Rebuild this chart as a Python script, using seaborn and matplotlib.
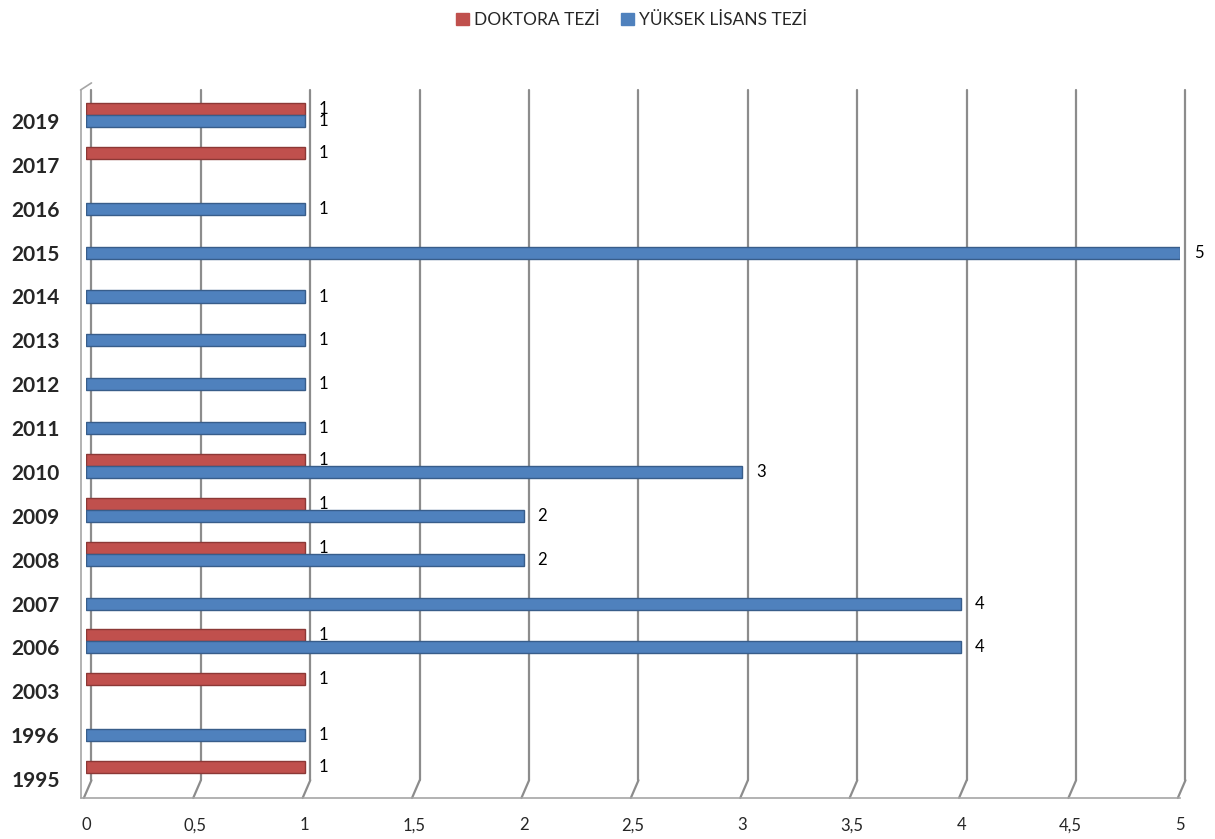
import matplotlib
matplotlib.use("Agg")
import matplotlib.pyplot as plt
import matplotlib.patches as mpatches
import matplotlib.transforms as mtransforms
import seaborn as sns
import pandas as pd
import numpy as np

years = ["2019", "2017", "2016", "2015", "2014", "2013", "2012", "2011",
         "2010", "2009", "2008", "2007", "2006", "2003", "1996", "1995"]
doktora_years = ["2019", "2017", "2010", "2009", "2008", "2006", "2003", "1995"]
doktora_values = [1, 1, 1, 1, 1, 1, 1, 1]
yl_years = ["2019", "2016", "2015", "2014", "2013", "2012", "2011", "2010",
            "2009", "2008", "2007", "2006", "1996"]
yl_values = [1, 1, 5, 1, 1, 1, 1, 3, 2, 2, 4, 4, 1]
series = ["DOKTORA TEZİ", "YÜKSEK LİSANS TEZİ"]
colors = ["#C0504D", "#4F81BD"]
edge_colors = ["#8C3836", "#385D8A"]
xticks = [0, 0.5, 1, 1.5, 2, 2.5, 3, 3.5, 4, 4.5, 5]
xtick_labels = ["0", "0,5", "1", "1,5", "2", "2,5", "3", "3,5", "4", "4,5", "5"]

df = pd.concat([
    pd.DataFrame({"year": doktora_years, "type": series[0], "value": doktora_values}),
    pd.DataFrame({"year": yl_years, "type": series[1], "value": yl_values}),
], ignore_index=True)

sns.set_style("white")
plt.rcParams["font.family"] = ["Lato", "DejaVu Sans"]

fig = plt.figure(figsize=(12.15, 8.39), dpi=100)
ax = fig.add_axes([86 / 1215, 1 - 798 / 839, (1180 - 86) / 1215, (798 - 90) / 839])

sns.barplot(data=df, y="year", x="value", hue="type", order=years,
            hue_order=series, palette=colors, width=0.55, dodge=True,
            orient="h", legend=False, ax=ax, saturation=1)

for cont, ec in zip(ax.containers, edge_colors):
    for bar in cont:
        bar.set_edgecolor(ec)
        bar.set_linewidth(1.0)
        bar.set_zorder(3)
    ax.bar_label(cont, labels=[f"{int(b.get_width())}" for b in cont],
                 padding=10, fontsize=12, color="#000000")

ax.set_xlim(0, 5)
ax.set_ylim(15.57, -0.57)
ax.set_yticks(np.arange(len(years)) + 0.1375)
ax.set_yticklabels(years, fontsize=15, fontweight="bold")
ax.set_xticks(xticks)
ax.set_xticklabels(xtick_labels, fontsize=12)
ax.tick_params(axis="x", length=0, pad=14)
ax.tick_params(axis="y", length=0, pad=19)
ax.set_xlabel("")
ax.set_ylabel("")

# vertical gridlines with a small 3D-like floor slant
trans = mtransforms.blended_transform_factory(ax.transData, ax.transAxes)
for xv in xticks:
    ax.plot([xv + 0.025, xv + 0.025], [0.025, 1.0], transform=trans,
            color="#8C8C8C", lw=1.6, zorder=1, clip_on=False)
    ax.plot([xv + 0.025, xv - 0.01], [0.025, 0.0], transform=trans,
            color="#8C8C8C", lw=1.6, zorder=1, clip_on=False)
ax.plot([0 - 0.025, 0 - 0.025], [0.0, 1.0], transform=trans,
        color="#A6A6A6", lw=1.2, clip_on=False)
ax.plot([-0.025, 0.025], [1.0, 1.01], transform=trans,
        color="#A6A6A6", lw=1.2, clip_on=False)

for s in ["top", "right", "left"]:
    ax.spines[s].set_visible(False)
ax.spines["bottom"].set_color("#A6A6A6")
ax.spines["bottom"].set_linewidth(1.2)
ax.spines["bottom"].set_bounds(-0.025, 5.0)

handles = [mpatches.Patch(color=c, label=l) for c, l in zip(colors, series)]
fig.legend(handles=handles, loc="center", bbox_to_anchor=(0.52, 1 - 20 / 839),
           ncol=2, frameon=False, fontsize=12.5, handlelength=0.75,
           handleheight=0.75, handletextpad=0.3, columnspacing=1.2)

fig.savefig("out.png", dpi=100)
